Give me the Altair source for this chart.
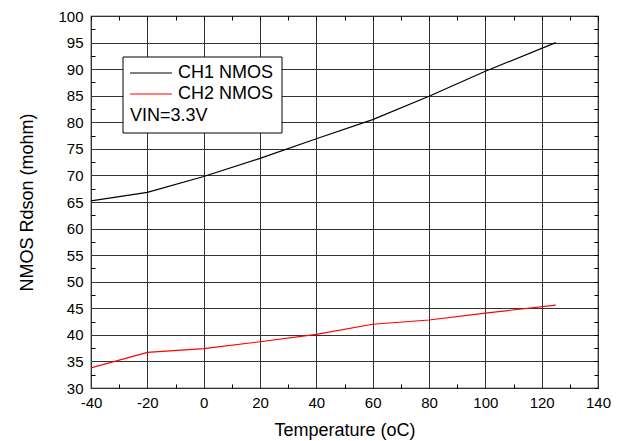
import altair as alt
import pandas as pd

# ---- data ----
temps = [-40, -20, 0, 20, 40, 60, 80, 100, 125]
ch1_nmos = [65.2, 66.8, 69.8, 73.2, 76.9, 80.5, 84.9, 89.6, 95.0]
ch2_nmos = [33.8, 36.7, 37.4, 38.7, 40.1, 42.0, 42.8, 44.1, 45.6]
series_names = ["CH1 NMOS", "CH2 NMOS"]
series_colors = ["#000000", "#ff0000"]
x_major = [-40, -20, 0, 20, 40, 60, 80, 100, 120, 140]
x_minor = [-30, -10, 10, 30, 50, 70, 90, 110, 130]
x_all = [-40, -30, -20, -10, 0, 10, 20, 30, 40, 50, 60, 70, 80, 90, 100, 110, 120, 130, 140]
y_major = [30, 35, 40, 45, 50, 55, 60, 65, 70, 75, 80, 85, 90, 95, 100]
y_minor = [32.5, 37.5, 42.5, 47.5, 52.5, 57.5, 62.5, 67.5, 72.5, 77.5, 82.5, 87.5, 92.5, 97.5]
y_all = sorted(y_major + y_minor)
legend_note = "VIN=3.3V"

rows = []
for t, a, b in zip(temps, ch1_nmos, ch2_nmos):
    rows.append({"t": t, "v": a, "s": series_names[0]})
    rows.append({"t": t, "v": b, "s": series_names[1]})
df = pd.DataFrame(rows)

FONT = "Liberation Sans"
W, H = 507, 372
xscale = alt.Scale(domain=[-40, 140], nice=False, zero=False)
yscale = alt.Scale(domain=[30, 100], nice=False, zero=False)

base = alt.Chart(df)

lines = base.mark_line(strokeWidth=1.2, clip=True).encode(
    x=alt.X("t:Q", scale=xscale, axis=alt.Axis(
        values=x_major, title="Temperature (oC)", grid=True, gridColor="#333333",
        gridWidth=1, ticks=False, tickSize=0, domain=False, labelFontSize=15,
        labelFont=FONT, labelColor="#000", labelPadding=7, titleFont=FONT,
        labelExpr="'' + datum.value",
        titleFontSize=18, titleFontWeight="normal", titleColor="#000",
        titleBaseline="alphabetic", titleY=47, labelFlush=False)),
    y=alt.Y("v:Q", scale=yscale, axis=alt.Axis(
        values=y_major, title="NMOS Rdson (mohm)", grid=True, gridColor="#333333",
        gridWidth=1, ticks=False, tickSize=0, domain=False, labelFontSize=15,
        labelFont=FONT, labelColor="#000", labelPadding=8, titleFont=FONT,
        titleFontSize=18, titleFontWeight="normal", titleColor="#000",
        titleBaseline="alphabetic", titleX=-59, labelFlush=False)),
    color=alt.Color("s:N", scale=alt.Scale(domain=series_names, range=series_colors), legend=None),
)

def tick_layer(xaxis, yaxis):
    return base.mark_point(opacity=0).encode(
        x=alt.X("t:Q", scale=xscale, axis=xaxis),
        y=alt.Y("v:Q", scale=yscale, axis=yaxis),
    )

tick_common = dict(labels=False, domain=False, grid=False, title=None,
                   tickSize=4, offset=-4, tickColor="#000", tickWidth=1)

xb = tick_layer(alt.Axis(orient="bottom", values=x_minor, **tick_common), None)
xt = tick_layer(alt.Axis(orient="top", values=x_all, **tick_common), None)
yl = tick_layer(None, alt.Axis(orient="left", values=y_minor, **tick_common))
yr = tick_layer(None, alt.Axis(orient="right", values=y_all, **tick_common))

one = alt.Chart(pd.DataFrame({"k": [0]}))
legend_box = one.mark_rect(fill="white", stroke="black", strokeWidth=1).encode(
    x=alt.value(32), x2=alt.value(191), y=alt.value(41), y2=alt.value(117))
leg_line1 = one.mark_rule(color=series_colors[0], strokeWidth=1).encode(
    x=alt.value(39), x2=alt.value(81), y=alt.value(57))
leg_line2 = one.mark_rule(color=series_colors[1], strokeWidth=1).encode(
    x=alt.value(39), x2=alt.value(81), y=alt.value(78))
txt_style = dict(align="left", baseline="middle", font=FONT, fontSize=18, color="#000")
leg_t1 = one.mark_text(**txt_style).encode(x=alt.value(87), y=alt.value(57), text=alt.value(series_names[0]))
leg_t2 = one.mark_text(**txt_style).encode(x=alt.value(87), y=alt.value(78), text=alt.value(series_names[1]))
leg_t3 = one.mark_text(**txt_style).encode(x=alt.value(39), y=alt.value(100), text=alt.value(legend_note))

chart = alt.layer(
    lines, xb, xt, yl, yr, legend_box, leg_line1, leg_line2, leg_t1, leg_t2, leg_t3
).resolve_axis(x="independent", y="independent").properties(
    width=W, height=H,
    autosize=alt.AutoSizeParams(type="none"),
    padding={"left": 83, "top": 8, "right": 16, "bottom": 53},
    background="white",
).configure_view(stroke="black", strokeWidth=1.2)

chart.save("out.html", embed_options={"renderer": "svg", "actions": False})
